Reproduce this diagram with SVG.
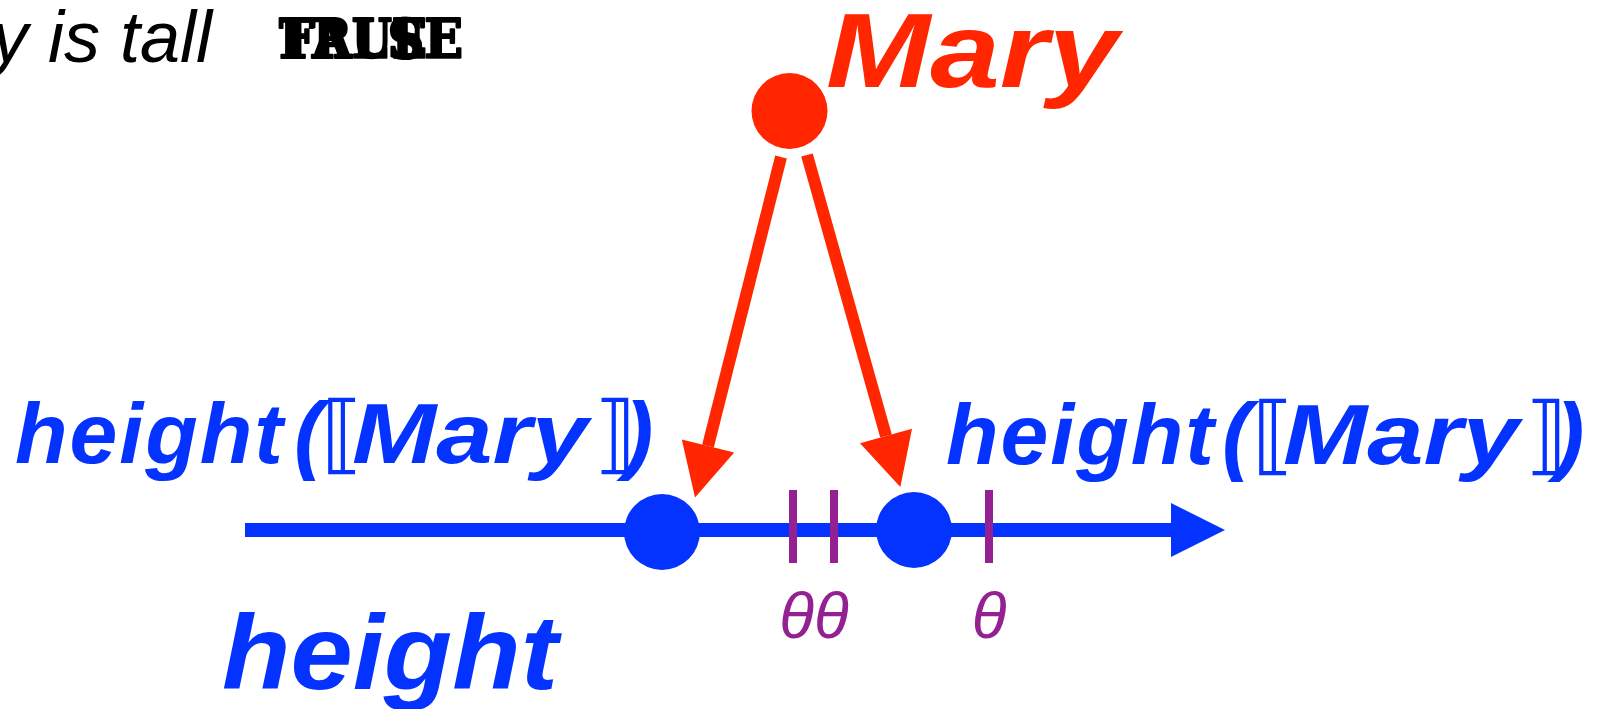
<svg xmlns="http://www.w3.org/2000/svg" width="1602" height="709" viewBox="0 0 1602 709">
  <style>
    .lbl { font-family: "Liberation Sans", Arial, sans-serif; font-weight: bold; font-style: italic; fill: #0433FF; }
    .br { font-family: "DejaVu Sans", sans-serif; font-weight: normal; font-style: normal; }
    .theta { font-family: "Liberation Sans", Arial, sans-serif; font-style: italic; fill: #942192; font-size: 64px; text-anchor: middle; }
    .tick { stroke: #942192; stroke-width: 8; }
    .tf { font-family: "DejaVu Serif", "Liberation Serif", serif; font-weight: bold; font-size: 54px; fill: #000; stroke: #000; stroke-width: 2.2; stroke-linejoin: round; }
  </style>
  <defs>
    <marker id="redhead" markerUnits="userSpaceOnUse" markerWidth="54" markerHeight="54" refX="0" refY="27" orient="auto" overflow="visible">
      <path d="M0,0 L53,27 L0,54 Z" fill="#FF2600"/>
    </marker>
    <marker id="bluehead" markerUnits="userSpaceOnUse" markerWidth="54" markerHeight="54" refX="0" refY="27" orient="auto" overflow="visible">
      <path d="M0,0 L54,27 L0,54 Z" fill="#0433FF"/>
    </marker>
  </defs>
  <rect width="1602" height="709" fill="#fff"/>

  <g id="sentence">
    <text x="-8" y="62" font-family="'Liberation Sans', Arial, sans-serif" font-style="italic" font-size="72" fill="#000">y is tall</text>
  </g>
  <g id="truth-value">
    <text class="tf" x="279" y="58" textLength="148" lengthAdjust="spacingAndGlyphs">TRUE</text>
    <text class="tf" x="279" y="58" textLength="184" lengthAdjust="spacingAndGlyphs">FALSE</text>
  </g>

  <g id="axis">
    <line x1="245" y1="530" x2="1171" y2="530" stroke="#0433FF" stroke-width="14" marker-end="url(#bluehead)"/>
  </g>

  <g id="ticks">
    <line class="tick" x1="793" y1="490" x2="793" y2="563"/>
    <line class="tick" x1="834" y1="490" x2="834" y2="563"/>
    <line class="tick" x1="989" y1="490" x2="989" y2="563"/>
    <text class="theta" x="814" y="638">θθ</text>
    <text class="theta" x="989" y="638">θ</text>
  </g>

  <g id="connectors">
    <line x1="781" y1="157" x2="708" y2="446" stroke="#FF2600" stroke-width="12" marker-end="url(#redhead)"/>
    <line x1="807" y1="155" x2="886" y2="436" stroke="#FF2600" stroke-width="12" marker-end="url(#redhead)"/>
  </g>

  <g id="mary">
    <circle cx="789.5" cy="111" r="38" fill="#FF2600"/>
    <text x="826" y="87" font-family="'Liberation Sans', Arial, sans-serif" font-weight="bold" font-style="italic" font-size="105" fill="#FF2600" textLength="292" lengthAdjust="spacingAndGlyphs">Mary</text>
  </g>

  <g id="height-left">
    <circle cx="662" cy="532" r="38" fill="#0433FF"/>
    <text class="lbl" y="463" font-size="86"><tspan x="15" letter-spacing="2">height</tspan><tspan x="294" font-size="88">(</tspan><tspan class="br" x="321">⟦</tspan><tspan x="352" textLength="236" lengthAdjust="spacingAndGlyphs">Mary</tspan><tspan class="br" x="594">⟧</tspan><tspan x="624" font-size="88">)</tspan></text>
  </g>

  <g id="height-right">
    <circle cx="914" cy="530" r="38" fill="#0433FF"/>
    <text class="lbl" y="464" font-size="86"><tspan x="946" letter-spacing="2">height</tspan><tspan x="1222" font-size="88">(</tspan><tspan class="br" x="1252">⟦</tspan><tspan x="1283" textLength="236" lengthAdjust="spacingAndGlyphs">Mary</tspan><tspan class="br" x="1525">⟧</tspan><tspan x="1555" font-size="88">)</tspan></text>
  </g>

  <g id="axis-label">
    <text class="lbl" x="222" y="689" font-size="105" textLength="336" lengthAdjust="spacingAndGlyphs">height</text>
  </g>
</svg>
